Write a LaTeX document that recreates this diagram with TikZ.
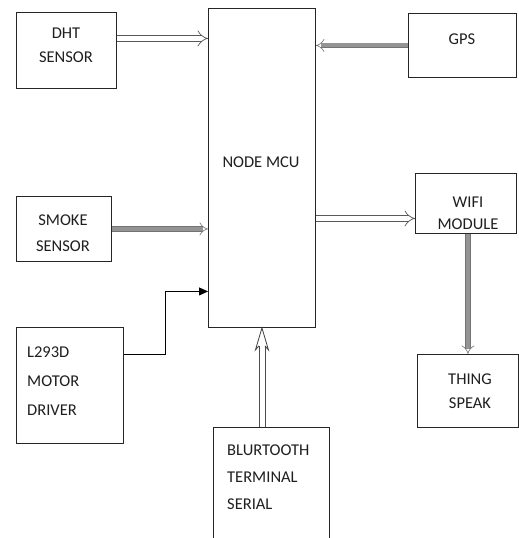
\documentclass[tikz,border=0pt]{standalone}
\usepackage{fontspec}
\setmainfont{Carlito}
\usetikzlibrary{arrows.meta,calc}
\begin{document}
\begin{tikzpicture}[x=1pt,y=-1pt,
  box/.style={draw=black!85, line width=0.9pt, inner sep=0pt, anchor=north west},
  lbl/.style={text=black!88, font=\fontsize{16.5}{24}\selectfont, align=center, inner sep=0pt},
  hollow/.style={draw=black!65, line width=0.7pt, double=white, double distance=5pt, -{Implies}},
  grayline/.style={draw=black!55, line width=0.6pt, double=black!42, double distance=4pt, -{Implies[scale=0.4]}},
  shaft/.style={draw=black!70, line width=0.8pt},
  blk/.style={draw=black, line width=0.9pt, -{Triangle[length=9pt,width=8pt]}}]
\clip (0,0) rectangle (519,538);
\fill[white] (0,0) rectangle (519,538);
% boxes
\node[box, minimum width=100pt, minimum height=76pt] (dht) at (16,12) {};
\node[box, minimum width=107pt, minimum height=319pt] (mcu) at (208,8) {};
\node[box, minimum width=108pt, minimum height=64pt] (gps) at (408,13) {};
\node[box, minimum width=95pt, minimum height=65pt] (smoke) at (16,196) {};
\node[box, minimum width=107pt, minimum height=116pt] (motor) at (16,327) {};
\node[box, minimum width=101pt, minimum height=60pt] (wifi) at (415,173) {};
\node[box, minimum width=101pt, minimum height=73pt] (thing) at (417,354) {};
\node[box, minimum width=116pt, minimum height=130pt] (bt) at (213,427) {};
% labels
\node[lbl] (tdht) at (66,45) {DHT\\SENSOR};
\node[lbl] (tmcu) at (261,162) {NODE MCU};
\node[lbl] (tgps) at (462,39) {GPS};
\node[lbl, font=\fontsize{16.5}{26}\selectfont] (tsmoke) at (63,233) {SMOKE\\SENSOR};
\node[lbl, align=left, anchor=west, font=\fontsize{16.5}{29}\selectfont] (tmotor) at (27,381) {L293D\\MOTOR\\DRIVER};
\node[lbl, font=\fontsize{16.5}{22}\selectfont] (twifi) at (468,213) {WIFI\\MODULE};
\node[lbl] (tthing) at (470,391) {THING\\SPEAK};
\node[lbl, align=left, anchor=west, font=\fontsize{16.5}{27}\selectfont] (tbt) at (227,477) {BLURTOOTH\\TERMINAL\\SERIAL};
% connectors
\path ([yshift=12pt]dht.east) coordinate (d1);
\draw[hollow] (d1) -- (d1 -| mcu.west);
\draw[grayline] (gps.west) -- (gps.west -| mcu.east);
\draw[grayline] (smoke.east) -- (smoke.east -| mcu.west);
\path ([yshift=-15pt]wifi.west) coordinate (w1);
\draw[hollow] (w1 -| mcu.east) -- (w1);
\draw[grayline] (wifi.south -| thing.north) -- (thing.north);
\draw[blk] ([yshift=31pt]motor.east) -- ++(42,0) |- ([yshift=-123.5pt]mcu.west);
% bluetooth hollow arrow
\path (mcu.south) coordinate (tip);
\path (tip |- bt.north) coordinate (b0);
\draw[shaft] ($(b0)+(-3,0)$) -- ($(tip)+(-3,18)$);
\draw[shaft] ($(b0)+(3,0)$) -- ($(tip)+(3,18)$);
\filldraw[draw=black!75, line width=0.8pt, fill=white] ($(tip)+(-3,18)$) -- ($(tip)+(-6.5,22)$) -- (tip) -- ($(tip)+(6.5,22)$) -- ($(tip)+(3,18)$);
\end{tikzpicture}
\end{document}
